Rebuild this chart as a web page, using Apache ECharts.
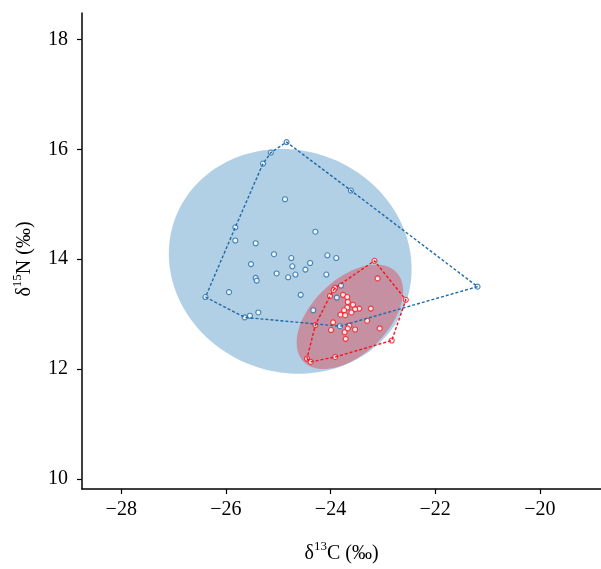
<!DOCTYPE html>
<html>
<head>
<meta charset="utf-8">
<script src="https://cdn.jsdelivr.net/npm/echarts@6/dist/echarts.min.js"></script>
<style>
html,body{margin:0;padding:0;background:#fff;}
#chart{width:601px;height:569px;}
</style>
</head>
<body>
<div id="chart"></div>
<script>
// Tick labels
const xTicks = [-28, -26, -24, -22, -20];
const yTicks = [10, 12, 14, 16, 18];

// Group 1 (blue) δ13C / δ15N
const blueX = [-24.84,-25.14,-25.29,-23.61,-24.87,-25.82,-24.29,-25.82,-25.43,-25.08,-24.06,-24.75,-23.89,-25.52,-24.39,-24.73,-24.48,-25.03,-24.67,-24.81,-25.43,-25.41,-24.08,-23.80,-21.19,-25.94,-24.57,-23.88,-26.39,-24.33,-25.38,-25.54,-25.64,-23.82];
const blueY = [16.13,15.94,15.74,15.25,15.09,14.58,14.50,14.34,14.29,14.09,14.07,14.02,14.02,13.91,13.93,13.87,13.81,13.74,13.72,13.67,13.66,13.61,13.72,13.52,13.50,13.40,13.35,13.30,13.31,13.07,13.03,12.97,12.94,12.78];

// Group 2 (red) δ13C / δ15N
const redX = [-23.16,-23.10,-23.91,-23.94,-24.01,-23.76,-23.68,-23.67,-23.57,-23.68,-23.45,-23.53,-23.74,-23.23,-23.60,-23.81,-23.72,-22.56,-23.30,-23.95,-24.29,-23.64,-23.67,-23.99,-23.53,-23.06,-23.73,-23.71,-22.83,-24.45,-24.38,-23.91];
const redY = [13.97,13.65,13.48,13.44,13.33,13.35,13.31,13.22,13.17,13.12,13.10,13.09,13.07,13.10,13.03,12.99,12.98,13.26,12.88,12.85,12.80,12.79,12.74,12.71,12.72,12.74,12.67,12.55,12.52,12.19,12.13,12.22];

// Ellipses: centre x, centre y, cos-vector (dx, dy), sin-vector (dx, dy)
const blueEllipse = [-24.77, 13.96, 2.32, -0.14, 0.0, 2.04];
const redEllipse  = [-23.63, 12.95, 0.88, 0.82, 0.51, -0.48];

function pairs(xs, ys){ return xs.map((x,i)=>[x, ys[i]]); }
function hull(pts){
  const p = pts.slice().sort((a,b)=>a[0]-b[0]||a[1]-b[1]);
  const cross=(o,a,b)=>(a[0]-o[0])*(b[1]-o[1])-(a[1]-o[1])*(b[0]-o[0]);
  const lower=[], upper=[];
  for(const q of p){ while(lower.length>=2&&cross(lower[lower.length-2],lower[lower.length-1],q)<=0) lower.pop(); lower.push(q); }
  for(let i=p.length-1;i>=0;i--){ const q=p[i]; while(upper.length>=2&&cross(upper[upper.length-2],upper[upper.length-1],q)<=0) upper.pop(); upper.push(q); }
  upper.pop(); lower.pop();
  const h = lower.concat(upper);
  h.push(h[0]);
  return h;
}

const bluePts = pairs(blueX, blueY);
const redPts = pairs(redX, redY);

const BLUE = '#1f6aa8';
const RED = '#f5141e';
const FONT = 'Liberation Serif';

function ellipseSeries(params, fill){
  return {
    type: 'custom',
    data: [params],
    encode: {x: 0, y: 1},
    silent: true,
    clip: false,
    renderItem: function(p, api){
      const cx=api.value(0), cy=api.value(1), ax=api.value(2), ay=api.value(3), bx=api.value(4), by=api.value(5);
      const pts=[];
      const N=180;
      for(let i=0;i<N;i++){
        const t=2*Math.PI*i/N, c=Math.cos(t), s=Math.sin(t);
        pts.push(api.coord([cx+ax*c+bx*s, cy+ay*c+by*s]));
      }
      return {type:'polygon', shape:{points:pts}, style:{fill:fill, stroke:null}};
    }
  };
}

const fmt = v => (v < 0 ? '\u2212' + Math.abs(v) : String(v));
const richTitle = {
  d: {fontFamily: FONT, fontSize: 20, color: '#000', lineHeight: 24, verticalAlign: 'bottom'},
  s: {fontFamily: FONT, fontSize: 13, color: '#000', lineHeight: 24, verticalAlign: 'top', padding: [0,0,8,0]}
};

const chart = echarts.init(document.getElementById('chart'), null, {renderer:'canvas'});
chart.setOption({
  animation: false,
  backgroundColor: '#fff',
  grid: {left: 82, right: 0, top: 13, bottom: 68, containLabel: false},
  xAxis: {
    type: 'value', min: -28.75, max: -18.83,
    axisLine: {show: true, onZero: false, lineStyle: {color: '#000', width: 1.5}},
    axisTick: {show: true, length: 5, customValues: xTicks, lineStyle: {color: '#000', width: 1.2}},
    axisLabel: {customValues: xTicks, formatter: fmt, fontFamily: FONT, fontSize: 20, color: '#000', margin: 11},
    splitLine: {show: false},
    name: '{d|δ}{s|13}{d|C (‰)}',
    nameLocation: 'middle', nameGap: 51,
    nameTextStyle: {fontFamily: FONT, fontSize: 20, color: '#000', rich: richTitle}
  },
  yAxis: {
    type: 'value', min: 9.817, max: 18.48,
    axisLine: {show: true, onZero: false, lineStyle: {color: '#000', width: 1.5}},
    axisTick: {show: true, length: 5, customValues: yTicks, lineStyle: {color: '#000', width: 1.2}},
    axisLabel: {customValues: yTicks, formatter: fmt, fontFamily: FONT, fontSize: 20, color: '#000', margin: 14},
    splitLine: {show: false},
    name: '{d|δ}{s|15}{d|N (‰)}',
    nameLocation: 'middle', nameGap: 47, nameRotate: 90,
    nameTextStyle: {fontFamily: FONT, fontSize: 20, color: '#000', rich: richTitle, padding: [0, 16, 0, 0]}
  },
  series: [
    ellipseSeries(blueEllipse, 'rgba(31,119,180,0.35)'),
    ellipseSeries(redEllipse, 'rgba(232,40,50,0.38)'),
    {type: 'line', data: hull(bluePts), symbol: 'none', silent: true,
     lineStyle: {color: BLUE, width: 1.4, type: [3, 2]}},
    {type: 'line', data: hull(redPts), symbol: 'none', silent: true,
     lineStyle: {color: RED, width: 1.4, type: [3, 2]}},
    {type: 'scatter', data: bluePts, symbol: 'circle', symbolSize: 5,
     itemStyle: {color: '#fff', borderColor: BLUE, borderWidth: 1.1}},
    {type: 'scatter', data: redPts, symbol: 'circle', symbolSize: 5,
     itemStyle: {color: '#fff', borderColor: RED, borderWidth: 1.1}}
  ]
});
</script>
</body>
</html>
